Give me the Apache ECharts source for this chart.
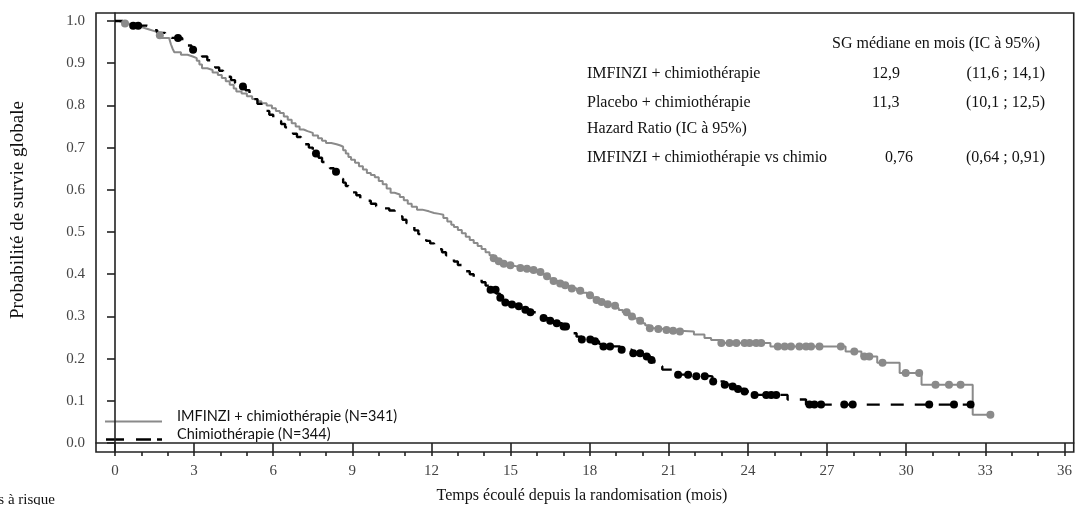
<!DOCTYPE html>
<html>
<head>
<meta charset="utf-8">
<script src="https://cdn.jsdelivr.net/npm/echarts@6/dist/echarts.min.js"></script>
<style>
html,body{margin:0;padding:0;background:#ffffff;}
#chart{width:1075px;height:505px;}
</style>
</head>
<body>
<div id="chart"></div>
<script>
// ---- data ----
const xMajorTicks = [0, 3, 6, 9, 12, 15, 18, 21, 24, 27, 30, 33, 36];
const xMinorTicks = [0,1,2,3,4,5,6,7,8,9,10,11,12,13,14,15,16,17,18,19,20,21,22,23,24,25,26,27,28,29,30,31,32,33,34,35,36];
const yTicks = [0, 0.1, 0.2, 0.3, 0.4, 0.5, 0.6, 0.7, 0.8, 0.9, 1.0];

// IMFINZI + chimiothérapie : Kaplan-Meier steps [mois, survie]
const durvaSteps = [
  [0,1.0],[0.15,0.997],[0.3,0.994],[0.5,0.99],[0.75,0.987],[0.95,0.983],[1.15,0.98],[1.3,0.976],[1.5,0.972],
  [1.65,0.966],[1.75,0.96],[2.05,0.956],[2.12,0.945],[2.18,0.935],[2.25,0.926],[2.5,0.92],[2.75,0.916],[2.95,0.912],
  [3.1,0.906],[3.2,0.897],[3.3,0.888],[3.5,0.884],[3.7,0.878],[3.9,0.872],[4.05,0.865],[4.2,0.857],[4.35,0.849],
  [4.5,0.84],[4.6,0.833],[4.8,0.828],[5.0,0.822],[5.2,0.815],[5.4,0.81],[5.55,0.805],[5.75,0.8],[5.95,0.793],
  [6.1,0.787],[6.25,0.782],[6.4,0.774],[6.55,0.766],[6.7,0.758],[6.85,0.75],[7.0,0.743],[7.15,0.739],[7.3,0.735],
  [7.5,0.729],[7.7,0.722],[7.85,0.716],[8.0,0.711],[8.2,0.708],[8.4,0.705],[8.55,0.702],[8.65,0.694],[8.75,0.686],
  [8.85,0.678],[8.95,0.671],[9.1,0.664],[9.25,0.656],[9.4,0.648],[9.55,0.64],[9.7,0.635],[9.85,0.63],[10.0,0.621],
  [10.15,0.613],[10.3,0.603],[10.45,0.593],[10.6,0.589],[10.8,0.583],[10.95,0.575],[11.1,0.567],[11.25,0.56],
  [11.45,0.553],[11.65,0.549],[11.9,0.545],[12.1,0.543],[12.3,0.541],[12.45,0.533],[12.6,0.525],[12.75,0.517],
  [12.85,0.512],[13.0,0.505],[13.15,0.497],[13.3,0.489],[13.45,0.481],[13.6,0.474],[13.75,0.467],[13.9,0.46],
  [14.05,0.452],[14.2,0.445],[14.35,0.438],[14.5,0.431],[14.65,0.425],[14.8,0.421],[15.0,0.418],[15.3,0.415],
  [15.6,0.413],[15.85,0.41],[16.0,0.405],[16.15,0.4],[16.3,0.395],[16.45,0.39],[16.6,0.384],[16.8,0.378],
  [17.0,0.374],[17.15,0.37],[17.3,0.366],[17.5,0.361],[17.7,0.356],[17.9,0.35],[18.05,0.345],[18.25,0.339],
  [18.4,0.334],[18.6,0.329],[18.8,0.325],[18.95,0.32],[19.1,0.315],[19.25,0.31],[19.4,0.306],[19.55,0.3],
  [19.7,0.295],[19.85,0.29],[19.95,0.284],[20.1,0.279],[20.25,0.272],[20.5,0.27],[20.8,0.268],[21.1,0.266],
  [21.4,0.264],[21.95,0.257],[22.35,0.249],[22.6,0.244],[22.95,0.237],[24.85,0.229],[27.7,0.217],[28.3,0.205],
  [28.9,0.19],[29.75,0.166],[30.58,0.138],[32.52,0.067],[33.2,0.067]
];
const durvaCensors = [
  [0.38,0.994],[1.7,0.966],
  [14.36,0.438],[14.55,0.431],[14.74,0.425],[14.99,0.421],[15.37,0.415],[15.62,0.413],[15.87,0.41],[16.13,0.405],
  [16.38,0.395],[16.63,0.384],[16.88,0.378],[17.07,0.374],[17.32,0.366],[17.64,0.361],[18.01,0.35],[18.26,0.339],
  [18.45,0.334],[18.68,0.329],[18.96,0.325],[19.4,0.31],[19.6,0.3],[19.91,0.29],[20.28,0.272],[20.6,0.27],
  [20.91,0.268],[21.16,0.266],[21.42,0.264],
  [22.99,0.237],[23.3,0.237],[23.56,0.237],[23.87,0.237],[24.06,0.237],[24.31,0.237],[24.5,0.237],
  [25.13,0.229],[25.39,0.229],[25.63,0.229],[25.95,0.229],[26.2,0.229],[26.39,0.229],[26.71,0.229],[27.52,0.229],
  [28.03,0.217],[28.41,0.205],[28.6,0.205],[29.1,0.19],[29.98,0.166],[30.49,0.166],
  [31.11,0.138],[31.62,0.138],[32.06,0.138],[33.19,0.067]
];

// Chimiothérapie : Kaplan-Meier steps [mois, survie]
const chemoSteps = [
  [0,1.0],[0.3,0.995],[0.55,0.989],[1.2,0.985],[1.4,0.978],[1.6,0.972],[1.9,0.966],[2.15,0.96],[2.55,0.952],
  [2.75,0.942],[2.9,0.932],[3.1,0.925],[3.3,0.916],[3.5,0.907],[3.65,0.899],[3.8,0.89],[3.95,0.882],[4.1,0.875],
  [4.25,0.868],[4.4,0.86],[4.55,0.853],[4.75,0.845],[4.95,0.836],[5.1,0.826],[5.25,0.815],[5.4,0.804],[5.55,0.795],
  [5.7,0.787],[5.85,0.778],[6.0,0.77],[6.15,0.763],[6.3,0.756],[6.45,0.748],[6.6,0.741],[6.75,0.733],[6.9,0.725],
  [7.05,0.717],[7.2,0.708],[7.35,0.7],[7.5,0.692],[7.6,0.686],[7.72,0.676],[7.85,0.666],[8.0,0.658],[8.15,0.651],
  [8.3,0.643],[8.45,0.635],[8.55,0.626],[8.65,0.617],[8.75,0.609],[8.85,0.602],[9.0,0.594],[9.15,0.587],[9.3,0.58],
  [9.5,0.574],[9.7,0.567],[9.9,0.561],[10.15,0.556],[10.4,0.551],[10.6,0.545],[10.75,0.537],[10.9,0.529],
  [11.05,0.521],[11.2,0.513],[11.35,0.504],[11.5,0.495],[11.65,0.486],[11.8,0.479],[11.95,0.473],[12.1,0.466],
  [12.25,0.459],[12.4,0.452],[12.55,0.445],[12.7,0.438],[12.85,0.43],[13.0,0.422],[13.15,0.413],[13.3,0.407],
  [13.45,0.4],[13.6,0.394],[13.75,0.388],[13.9,0.381],[14.05,0.373],[14.2,0.363],[14.45,0.354],[14.6,0.344],
  [14.8,0.333],[15.05,0.328],[15.3,0.324],[15.55,0.316],[15.75,0.31],[16.05,0.303],[16.25,0.296],[16.5,0.29],
  [16.75,0.284],[16.95,0.276],[17.2,0.268],[17.35,0.26],[17.5,0.252],[17.7,0.245],[18.15,0.241],[18.35,0.235],
  [18.45,0.229],[19.15,0.221],[19.6,0.213],[20.1,0.205],[20.3,0.197],[20.45,0.19],[20.6,0.182],[20.75,0.174],
  [21.35,0.162],[22.0,0.158],[22.65,0.146],[23.1,0.138],[23.4,0.134],[23.6,0.128],[23.85,0.122],[24.25,0.114],
  [25.5,0.103],[26.2,0.091],[32.5,0.091]
];
const chemoCensors = [
  [0.69,0.989],[0.88,0.989],[2.39,0.96],[2.96,0.932],[4.85,0.845],[7.62,0.686],[8.38,0.643],
  [14.24,0.363],[14.43,0.363],[14.61,0.344],[14.8,0.333],[15.05,0.328],[15.31,0.324],[15.56,0.316],[15.75,0.31],
  [16.25,0.296],[16.5,0.29],[16.75,0.284],[17.01,0.276],[17.1,0.276],
  [17.7,0.245],[18.02,0.245],[18.2,0.241],[18.52,0.229],[18.77,0.229],[19.21,0.221],[19.65,0.213],[19.91,0.213],
  [20.16,0.205],[20.34,0.197],
  [21.35,0.162],[21.73,0.162],[22.04,0.158],[22.36,0.158],[22.68,0.146],[23.12,0.138],[23.42,0.134],[23.62,0.128],
  [23.87,0.122],[24.25,0.114],[24.69,0.114],[24.88,0.114],[25.07,0.114],
  [26.33,0.091],[26.52,0.091],[26.77,0.091],[27.65,0.091],[27.97,0.091],[30.87,0.091],[31.81,0.091],[32.44,0.091]
];

const legendLabels = ['IMFINZI + chimiothérapie (N=341)', 'Chimiothérapie (N=344)'];
const yAxisTitle = 'Probabilité de survie globale';
const xAxisTitle = 'Temps écoulé depuis la randomisation (mois)';
const riskLabel = 'Nombre de patients à risque';
const tableHeader = 'SG médiane en mois (IC à 95%)';
const tableLabels = ['IMFINZI + chimiothérapie', 'Placebo + chimiothérapie', 'Hazard Ratio (IC à 95%)', 'IMFINZI + chimiothérapie vs chimio'];
const tableValues = ['12,9', '11,3', '', '0,76'];
const tableIntervals = ['(11,6 ; 14,1)', '(10,1 ; 12,5)', '', '(0,64 ; 0,91)'];

// ---- layout ----
const SERIF = '"Liberation Serif", "DejaVu Serif", serif';
const SANS = 'Lato, "Liberation Sans", sans-serif';
const GRAY = '#8a8a8a';
const rowY = [74, 103, 129, 158];
const valX = [872, 872, 872, 885];

const graphics = [];
graphics.push({ type: 'text', x: 832, y: 44, style: { text: tableHeader, font: '16px ' + SERIF, fill: '#111', textVerticalAlign: 'middle' } });
tableLabels.forEach((t, i) => {
  graphics.push({ type: 'text', x: 587, y: rowY[i], style: { text: t, font: '16px ' + SERIF, fill: '#111', textVerticalAlign: 'middle' } });
  if (tableValues[i]) graphics.push({ type: 'text', x: valX[i], y: rowY[i], style: { text: tableValues[i], font: '16px ' + SERIF, fill: '#111', textVerticalAlign: 'middle' } });
  if (tableIntervals[i]) graphics.push({ type: 'text', x: 1045, y: rowY[i], style: { text: tableIntervals[i], font: '16px ' + SERIF, fill: '#111', textAlign: 'right', textVerticalAlign: 'middle' } });
});
// legend samples
graphics.push({ type: 'line', shape: { x1: 105, y1: 421.5, x2: 162, y2: 421.5 }, style: { stroke: GRAY, lineWidth: 2 } });
[[106, 124], [136, 151], [157, 162]].forEach(d => {
  graphics.push({ type: 'line', shape: { x1: d[0], y1: 439.5, x2: d[1], y2: 439.5 }, style: { stroke: '#000', lineWidth: 2.5 } });
});
graphics.push({ type: 'text', x: 177, y: 416, style: { text: legendLabels[0], font: '14.5px ' + SANS, fill: '#111', textVerticalAlign: 'middle' } });
graphics.push({ type: 'text', x: 177, y: 434, style: { text: legendLabels[1], font: '14.5px ' + SANS, fill: '#111', textVerticalAlign: 'middle' } });
// axis titles
graphics.push({ type: 'text', x: 18, y: 210, rotation: Math.PI / 2, style: { text: yAxisTitle, font: '19px ' + SERIF, fill: '#111', textAlign: 'center', textVerticalAlign: 'middle' } });
graphics.push({ type: 'text', x: 582, y: 496, style: { text: xAxisTitle, font: '16px ' + SERIF, fill: '#111', textAlign: 'center', textVerticalAlign: 'middle' } });
graphics.push({ type: 'text', x: 55, y: 500, style: { text: riskLabel, font: '15px ' + SERIF, fill: '#111', textAlign: 'right', textVerticalAlign: 'middle' } });

const XMIN = -0.72, XMAX = 36.35;
const option = {
  animation: false,
  backgroundColor: '#ffffff',
  grid: { left: 96, top: 13, width: 981, height: 439, show: true, borderColor: '#222', borderWidth: 1.6, backgroundColor: 'transparent' },
  xAxis: [
    {
      type: 'value', min: XMIN, max: XMAX, position: 'bottom',
      axisLine: { show: true, lineStyle: { color: '#222', width: 1.6 } },
      axisTick: { show: true, customValues: xMajorTicks, length: 9, lineStyle: { color: '#222', width: 1.6 } },
      axisLabel: { show: true, customValues: xMajorTicks, margin: 12, color: '#444', fontFamily: SERIF, fontSize: 15 },
      splitLine: { show: false }
    },
    {
      type: 'value', min: XMIN, max: XMAX, position: 'bottom', offset: 0,
      axisLine: { show: false },
      axisTick: { show: true, customValues: xMinorTicks, length: 4, lineStyle: { color: '#222', width: 1.6 } },
      axisLabel: { show: false },
      splitLine: { show: false }
    }
  ],
  yAxis: {
    type: 'value', min: -0.0213, max: 1.019,
    axisLine: { show: true, lineStyle: { color: '#222', width: 1.6 } },
    axisTick: { show: true, customValues: yTicks, length: 8, lineStyle: { color: '#222', width: 1.6 } },
    axisLabel: { show: true, customValues: yTicks, margin: 11, color: '#444', fontFamily: SERIF, fontSize: 15, formatter: v => Number(v).toFixed(1) },
    splitLine: { show: false }
  },
  graphic: graphics,
  series: [
    { name: legendLabels[0], type: 'line', step: 'end', data: durvaSteps, showSymbol: false, symbol: 'none',
      lineStyle: { color: GRAY, width: 2 }, z: 2 },
    { name: legendLabels[1], type: 'line', step: 'end', data: chemoSteps, showSymbol: false, symbol: 'none',
      lineStyle: { color: '#000', width: 2.4, type: [13, 11] }, z: 3 },
    { type: 'scatter', data: durvaCensors, symbol: 'circle', symbolSize: 8, itemStyle: { color: GRAY, opacity: 1 }, z: 4 },
    { type: 'scatter', data: chemoCensors, symbol: 'circle', symbolSize: 8, itemStyle: { color: '#000', opacity: 1 }, z: 5 }
  ]
};
const chart = echarts.init(document.getElementById('chart'), null, { renderer: 'canvas' });
chart.setOption(option);
</script>
</body>
</html>
